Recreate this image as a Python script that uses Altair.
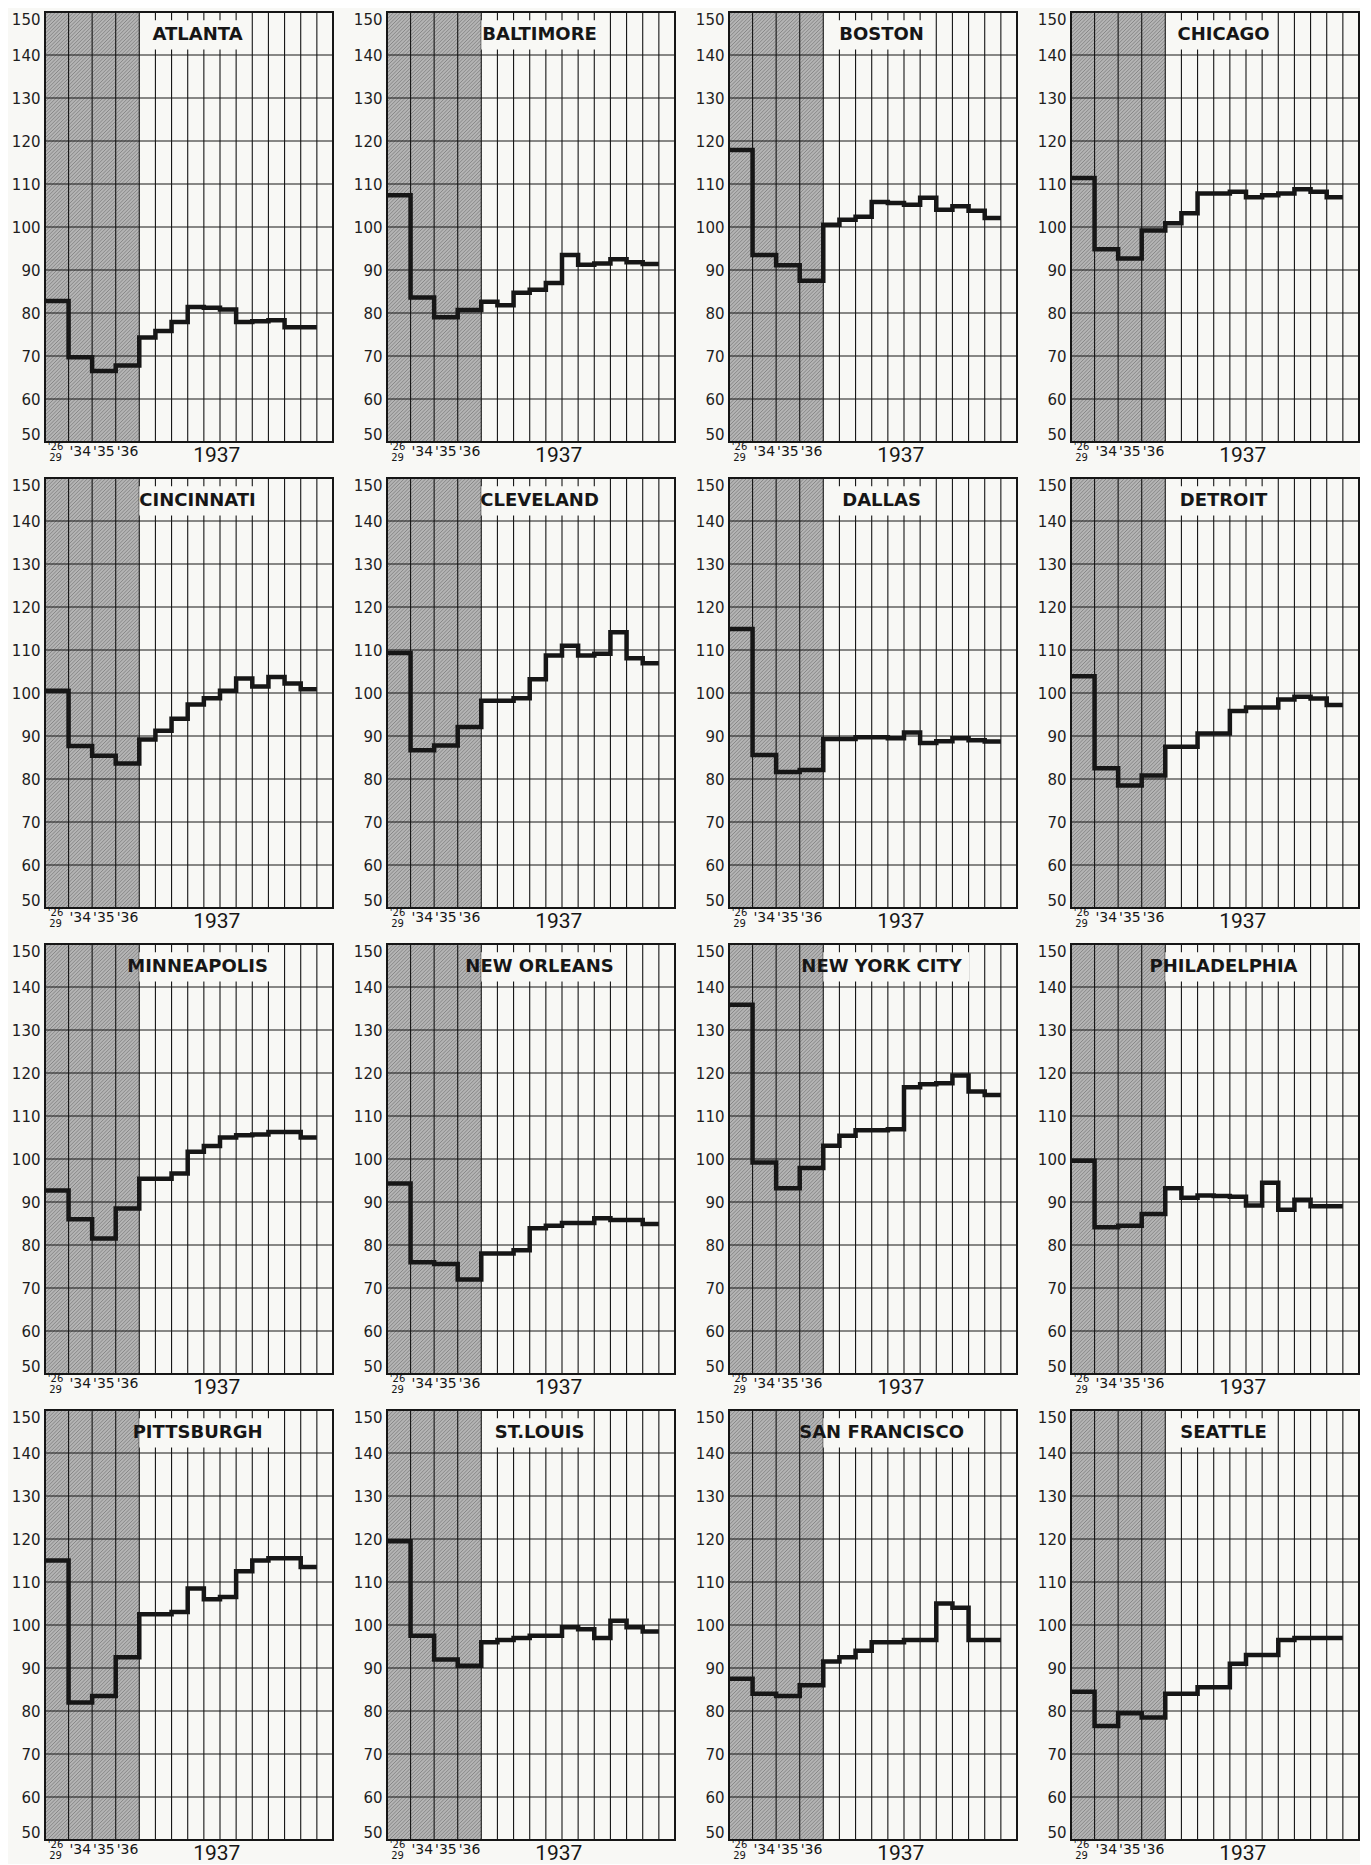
import altair as alt
import pandas as pd

# ---------------- data ----------------
cities = ["ATLANTA", "BALTIMORE", "BOSTON", "CHICAGO",
          "CINCINNATI", "CLEVELAND", "DALLAS", "DETROIT",
          "MINNEAPOLIS", "NEW ORLEANS", "NEW YORK CITY", "PHILADELPHIA",
          "PITTSBURGH", "ST.LOUIS", "SAN FRANCISCO", "SEATTLE"]

periods = ["'26-'29", "'34", "'35", "'36",
           "Jan", "Feb", "Mar", "Apr", "May", "Jun", "Jul", "Aug", "Sep", "Oct", "Nov"]

atlanta = [82.8, 69.7, 66.5, 67.8, 74.3, 75.8, 77.9, 81.4, 81.2, 80.8, 77.9, 78.1, 78.3, 76.7, 76.7]
baltimore = [107.4, 83.6, 79.0, 80.7, 82.6, 81.8, 84.7, 85.4, 87.0, 93.5, 91.2, 91.5, 92.5, 91.8, 91.4]
boston = [117.9, 93.5, 91.1, 87.5, 100.5, 101.7, 102.4, 105.8, 105.6, 105.2, 106.8, 104.0, 104.8, 103.8, 102.1]
chicago = [111.4, 94.8, 92.7, 99.2, 100.9, 103.2, 107.8, 107.8, 108.2, 106.9, 107.4, 107.8, 108.8, 108.2, 106.9]
cincinnati = [100.5, 87.7, 85.4, 83.6, 89.2, 91.2, 94.0, 97.3, 98.8, 100.5, 103.4, 101.5, 103.7, 102.2, 100.9]
cleveland = [109.3, 86.7, 87.8, 92.1, 98.2, 98.2, 98.8, 103.2, 108.7, 111.0, 108.7, 109.1, 114.1, 108.1, 106.9]
dallas = [114.9, 85.6, 81.6, 82.1, 89.3, 89.3, 89.7, 89.7, 89.5, 90.8, 88.4, 88.8, 89.5, 89.0, 88.7]
detroit = [103.9, 82.5, 78.5, 80.8, 87.5, 87.5, 90.6, 90.6, 95.8, 96.6, 96.6, 98.5, 99.1, 98.7, 97.2]
minneapolis = [92.7, 86.0, 81.5, 88.5, 95.4, 95.4, 96.6, 101.7, 103.0, 105.0, 105.5, 105.7, 106.3, 106.3, 105.0]
new_orleans = [94.3, 76.0, 75.6, 72.0, 78.0, 78.0, 78.8, 83.9, 84.5, 85.1, 85.1, 86.2, 85.8, 85.8, 84.9]
new_york = [135.9, 99.2, 93.2, 97.9, 103.1, 105.4, 106.7, 106.7, 106.9, 116.7, 117.4, 117.6, 119.4, 115.7, 114.9]
philadelphia = [99.6, 84.1, 84.5, 87.2, 93.2, 91.0, 91.5, 91.4, 91.2, 89.2, 94.5, 88.2, 90.5, 89.0, 89.0]
pittsburgh = [115.0, 82.0, 83.5, 92.5, 102.5, 102.5, 103.0, 108.5, 106.0, 106.5, 112.5, 115.0, 115.5, 115.5, 113.5]
st_louis = [119.5, 97.5, 92.0, 90.5, 96.0, 96.5, 97.0, 97.5, 97.5, 99.5, 99.0, 97.0, 101.0, 99.5, 98.5]
san_francisco = [87.5, 84.0, 83.5, 86.0, 91.5, 92.5, 94.0, 96.0, 96.0, 96.5, 96.5, 105.0, 104.0, 96.5, 96.5]
seattle = [84.5, 76.5, 79.5, 78.5, 84.0, 84.0, 85.5, 85.5, 91.0, 93.0, 93.0, 96.5, 97.0, 97.0, 97.0]

series = [atlanta, baltimore, boston, chicago, cincinnati, cleveland, dallas, detroit,
          minneapolis, new_orleans, new_york, philadelphia, pittsburgh, st_louis,
          san_francisco, seattle]

y_ticks = list(range(50, 151, 10))

# ---------------- layout / style ----------------
W, H = 288, 430
SW = 1.46               # width of one pre-1937 column relative to a month
NM = 12
XMAX = 4 * SW + NM
edges = [i * SW for i in range(5)] + [4 * SW + j for j in range(1, NM + 1)]
PXX = W / XMAX
PXY = H / 100.0

BG = "#f8f8f5"
INK = "#161616"
SHADE_BASE = "#b4b4b4"
HATCH = "#828282"

TITLE_SIZE = 18
TITLE_X = 9.45
TITLE_Y = 144.7
BOX_Y0, BOX_Y1 = 141.3, 148.1

# DejaVu Sans Bold advance widths (em)
CW = {"A": .774, "B": .762, "C": .734, "D": .830, "E": .683, "F": .683, "G": .821,
      "H": .837, "I": .372, "K": .775, "L": .637, "M": .995, "N": .837, "O": .850,
      "P": .733, "R": .770, "S": .720, "T": .682, "U": .812, "V": .774, "W": 1.103,
      "Y": .724, " ": .348, ".": .380}

xs = alt.Scale(domain=[0, XMAX], nice=False, zero=False)
ys = alt.Scale(domain=[50, 150], nice=False, zero=False)
YAX = alt.Axis(values=y_ticks, ticks=False, domain=False, grid=False,
               labelFlush=True, labelFont="DejaVu Sans", labelFontSize=15,
               labelPadding=5, labelColor="#1e1e1e", title=None)

# hatch lines for the shaded (pre-1937) region, computed in pixel space
shade_w_px = edges[4] * PXX
hatch_rows = []
c = 0.0
while c < shade_w_px + H:
    sx0 = max(0.0, c - H)
    sx1 = min(shade_w_px, c)
    if sx1 > sx0:
        hatch_rows.append({"hx": sx0 / PXX, "hy": 150 - (c - sx0) / PXY,
                           "hx2": sx1 / PXX, "hy2": 150 - (c - sx1) / PXY})
    c += 3.6
hatch_df = pd.DataFrame(hatch_rows)

vgrid_df = pd.DataFrame({"gx": edges[1:16], "g0": [50] * 15, "g1": [150] * 15})
hgrid_df = pd.DataFrame({"gy": y_ticks[1:-1], "h0": [0.0] * 9, "h1": [XMAX] * 9})
one_df = pd.DataFrame({"x0": [0.0], "x1": [edges[4]], "x2": [XMAX], "y0": [50], "y1": [150]})

period_labels = pd.DataFrame({
    "lab": ["'34", "'35", "'36"],
    "lx": [(edges[1] + edges[2]) / 2, (edges[2] + edges[3]) / 2, (edges[3] + edges[4]) / 2],
})
lab26 = pd.DataFrame({"lab": ["'26"], "lx": [SW * 0.45]})
lab29 = pd.DataFrame({"lab": ["29"], "lx": [SW * 0.45]})
lab37 = pd.DataFrame({"lab": ["1937"], "lx": [4 * SW + 4.8]})


def X(f):
    return alt.X(f, type="quantitative", scale=xs, axis=None)


def Y(f):
    return alt.Y(f, type="quantitative", scale=ys, axis=YAX)


def panel(name, vals):
    pts = pd.DataFrame({
        "x": edges[:15] + [edges[15]],
        "v": list(vals) + [vals[-1]],
    })
    tw = sum(CW.get(ch, 0.7) for ch in name) * TITLE_SIZE
    hw = (tw / 2 + 7) / PXX
    box_df = pd.DataFrame({"bx0": [max(edges[4], TITLE_X - hw)], "bx1": [TITLE_X + hw],
                           "by0": [BOX_Y0], "by1": [BOX_Y1]})
    title_df = pd.DataFrame({"t": [name], "tx": [TITLE_X], "ty": [TITLE_Y]})

    shade = alt.Chart(one_df).mark_rect(color=SHADE_BASE).encode(
        x=X("x0"), x2=alt.X2("x1"), y=Y("y0"), y2=alt.Y2("y1"))
    hatch = alt.Chart(hatch_df).mark_rule(color=HATCH, strokeWidth=0.9).encode(
        x=X("hx"), x2=alt.X2("hx2"), y=Y("hy"), y2=alt.Y2("hy2"))
    vgrid = alt.Chart(vgrid_df).mark_rule(color=INK, strokeWidth=1.1).encode(
        x=X("gx"), y=Y("g0"), y2=alt.Y2("g1"))
    hgrid = alt.Chart(hgrid_df).mark_rule(color=INK, strokeWidth=1.1).encode(
        y=Y("gy"), x=X("h0"), x2=alt.X2("h1"))
    box = alt.Chart(box_df).mark_rect(color=BG).encode(
        x=X("bx0"), x2=alt.X2("bx1"), y=Y("by0"), y2=alt.Y2("by1"))
    line = alt.Chart(pts).mark_line(interpolate="step-after", color=INK, strokeWidth=4.5,
                                    strokeJoin="miter").encode(
        x=X("x"), y=Y("v"))
    title = alt.Chart(title_df).mark_text(font="DejaVu Sans", fontWeight="bold",
                                          fontSize=TITLE_SIZE, color=INK,
                                          baseline="middle", align="center").encode(
        x=X("tx"), y=Y("ty"), text="t:N")
    frame = alt.Chart(one_df).mark_rect(fillOpacity=0, stroke=INK, strokeWidth=2).encode(
        x=X("x0"), x2=alt.X2("x2"), y=Y("y0"), y2=alt.Y2("y1"))
    l34 = alt.Chart(period_labels).mark_text(font="DejaVu Sans", fontSize=14, color=INK,
                                             baseline="alphabetic").encode(
        x=X("lx"), y=alt.value(H + 14), text="lab:N")
    l26 = alt.Chart(lab26).mark_text(font="DejaVu Sans", fontSize=10, color=INK,
                                     baseline="alphabetic").encode(
        x=X("lx"), y=alt.value(H + 8), text="lab:N")
    l29 = alt.Chart(lab29).mark_text(font="DejaVu Sans", fontSize=10, color=INK,
                                     baseline="alphabetic").encode(
        x=X("lx"), y=alt.value(H + 19), text="lab:N")
    l37 = alt.Chart(lab37).mark_text(font="Roboto", fontSize=21, color=INK,
                                     baseline="alphabetic").encode(
        x=X("lx"), y=alt.value(H + 20), text="lab:N")
    return alt.layer(shade, hatch, vgrid, hgrid, box, line, title, frame,
                     l34, l26, l29, l37).properties(width=W, height=H)


rows = []
for r in range(4):
    row = [panel(cities[4 * r + c], series[4 * r + c]) for c in range(4)]
    rows.append(alt.hconcat(*row, spacing=19))

chart = alt.vconcat(*rows, spacing=11).properties(
    padding={"left": 3, "top": 3, "right": 0, "bottom": 0},
    background=BG,
).configure_view(stroke=None)

chart.save("out.html", embed_options={"renderer": "svg", "actions": False})
